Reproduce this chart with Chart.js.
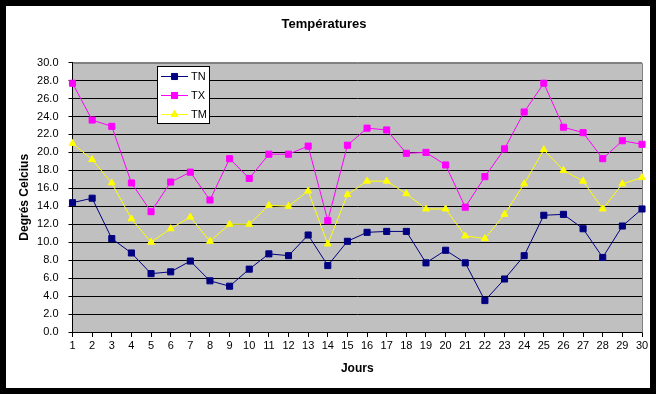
<!DOCTYPE html>
<html>
<head>
<meta charset="utf-8">
<script src="https://cdn.jsdelivr.net/npm/chart.js@4"></script>
<style>
  body { margin: 0; background: #000; }
  canvas { display: block; }
</style>
</head>
<body>
<canvas id="myChart" width="656" height="394"></canvas>
<script>
const jours = [
  "1", "2", "3", "4", "5", "6", "7", "8", "9", "10",
  "11", "12", "13", "14", "15", "16", "17", "18", "19", "20",
  "21", "22", "23", "24", "25", "26", "27", "28", "29", "30",
];
const tn = [
  14.4, 14.9, 10.4, 8.8, 6.5, 6.7, 7.9, 5.7, 5.1, 7.0,
  8.7, 8.5, 10.8, 7.4, 10.1, 11.1, 11.2, 11.2, 7.7, 9.1,
  7.7, 3.5, 5.9, 8.5, 13.0, 13.1, 11.5, 8.3, 11.8, 13.7,
];
const tx = [
  27.7, 23.6, 22.9, 16.6, 13.4, 16.7, 17.8, 14.7, 19.3, 17.1,
  19.8, 19.8, 20.7, 12.4, 20.8, 22.7, 22.5, 19.9, 20.0, 18.6,
  13.9, 17.3, 20.4, 24.5, 27.7, 22.8, 22.2, 19.3, 21.3, 20.9,
];
const tm = [
  21.0, 19.2, 16.6, 12.6, 10.0, 11.5, 12.8, 10.1, 12.0, 12.0,
  14.1, 14.0, 15.7, 9.8, 15.3, 16.8, 16.8, 15.4, 13.7, 13.7,
  10.7, 10.4, 13.1, 16.5, 20.3, 18.0, 16.8, 13.7, 16.5, 17.2,
];

const FONT = "'Liberation Sans', Arial, sans-serif";

// black frame + grey plot background
const backdrop = {
  id: "backdrop",
  beforeDraw(chart) {
    const { ctx, chartArea: a } = chart;
    ctx.save();
    ctx.fillStyle = "#000";
    ctx.fillRect(0, 0, chart.width, chart.height);
    ctx.fillStyle = "#fff";
    ctx.fillRect(6, 6, chart.width - 12, chart.height - 12);
    ctx.fillStyle = "#c0c0c0";
    ctx.fillRect(a.left, a.top, a.right - a.left, a.bottom - a.top);
    ctx.restore();
  },
  beforeDatasetsDraw(chart) {
    const { ctx, chartArea: a } = chart;
    ctx.save();
    ctx.strokeStyle = "#808080";
    ctx.lineWidth = 1;
    ctx.beginPath();
    ctx.moveTo(Math.round(a.left) + 0.5, Math.round(a.top) + 0.5);
    ctx.lineTo(Math.round(a.right) + 0.5, Math.round(a.top) + 0.5);
    ctx.lineTo(Math.round(a.right) + 0.5, Math.round(a.bottom) + 0.5);
    ctx.stroke();
    ctx.restore();
  },
};

// legend box inside the plot, like the Excel one
const boxLegend = {
  id: "boxLegend",
  afterDraw(chart) {
    const { ctx } = chart;
    const x = 157, y = 66, w = 52, h = 57;
    ctx.save();
    ctx.fillStyle = "#fff";
    ctx.fillRect(x, y, w, h);
    ctx.strokeStyle = "#000";
    ctx.lineWidth = 1;
    ctx.strokeRect(x + 0.5, y + 0.5, w, h);
    const rows = [76, 95, 114];
    chart.data.datasets.forEach((ds, i) => {
      const cy = rows[i];
      ctx.strokeStyle = ds.borderColor;
      ctx.beginPath();
      ctx.moveTo(161, cy + 0.5);
      ctx.lineTo(188, cy + 0.5);
      ctx.stroke();
      Chart.helpers.drawPoint(ctx, {
        pointStyle: ds.pointStyle,
        radius: ds.pointRadius,
        borderWidth: 1,
      }, 174.5, cy + 0.5);
      ctx.fillStyle = ds.borderColor;
      ctx.fill();
      ctx.fillStyle = "#000";
      ctx.font = "11px " + FONT;
      ctx.textBaseline = "middle";
      ctx.fillText(ds.label, 191, cy + 1);
    });
    ctx.restore();
  },
};

function serie(label, data, color, style, r) {
  return {
    label: label,
    data: data,
    borderColor: color,
    backgroundColor: color,
    pointBackgroundColor: color,
    pointBorderColor: color,
    pointBorderWidth: 1,
    pointStyle: style,
    pointRadius: r,
    borderWidth: 1,
    tension: 0,
  };
}

const chart1 = document.getElementById("myChart");
new Chart(chart1, {
  type: "line",
  data: {
    labels: jours,
    datasets: [
      serie("TN", tn, "#000080", "rect", 4.3),
      serie("TX", tx, "#ff00ff", "rect", 4.3),
      serie("TM", tm, "#ffff00", "triangle", 4),
    ],
  },
  options: {
    responsive: false,
    animation: false,
    layout: {
      padding: { left: 6, right: 14, top: 6, bottom: 6 },
    },
    plugins: {
      title: {
        display: true,
        text: "Températures",
        color: "#000",
        font: { family: FONT, size: 13, weight: "bold" },
        padding: { top: 11, bottom: 30 },
      },
      legend: { display: false },
      tooltip: { enabled: false },
    },
    scales: {
      x: {
        offset: false,
        afterFit(scale) {
          scale.height = 56;
        },
        grid: {
          drawOnChartArea: false,
          color: "#000",
          tickColor: "#000",
          tickLength: 5,
        },
        border: { color: "#000" },
        ticks: {
          color: "#000",
          autoSkip: false,
          maxRotation: 0,
          padding: 2,
          font: { family: FONT, size: 11 },
        },
        title: {
          display: true,
          text: "Jours",
          color: "#000",
          font: { family: FONT, size: 12, weight: "bold" },
          padding: { top: 0, bottom: 12 },
        },
      },
      y: {
        min: 0,
        max: 30,
        afterFit(scale) {
          scale.width = 66.5;
        },
        grid: {
          color: (c) => (c.tick && c.tick.value === 30 ? "#808080" : "#000"),
          tickColor: "#000",
          tickLength: 4,
        },
        border: { color: "#000" },
        ticks: {
          stepSize: 2,
          color: "#000",
          padding: 10,
          font: { family: FONT, size: 11 },
          callback: function (value) {
            return value.toFixed(1);
          },
        },
        title: {
          display: true,
          text: "Degrés Celcius",
          color: "#000",
          font: { family: FONT, size: 12, weight: "bold" },
          padding: { top: 11, bottom: 0 },
        },
      },
    },
  },
  plugins: [backdrop, boxLegend],
});
</script>
</body>
</html>
